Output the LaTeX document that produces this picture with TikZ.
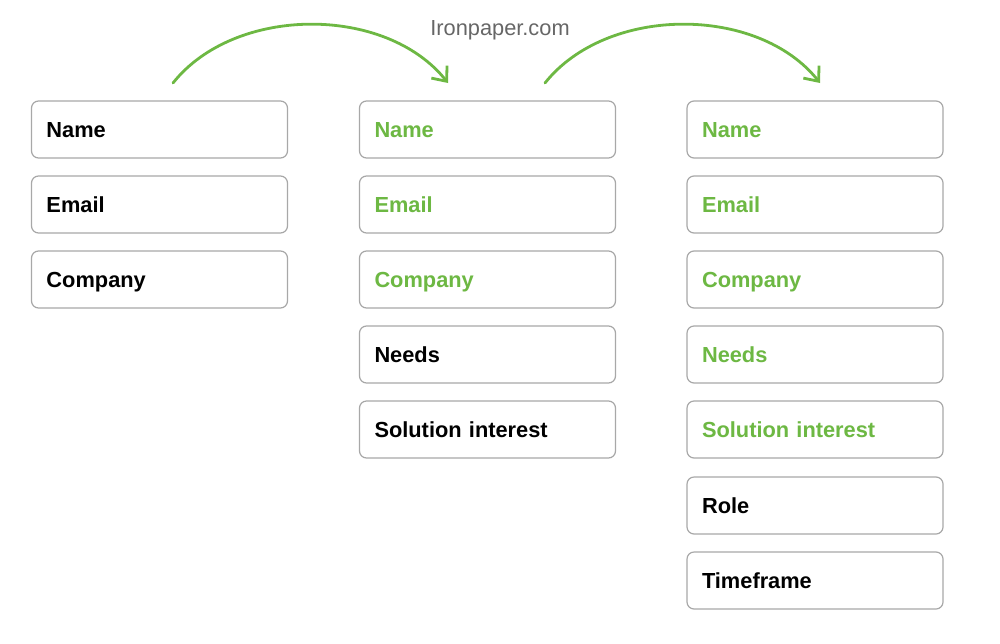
\documentclass[tikz,border=0pt]{standalone}
\usepackage{fontspec}
\setmainfont{Liberation Sans}
\usetikzlibrary{arrows.meta,positioning}
\definecolor{leafgreen}{HTML}{6DB843}
\definecolor{boxgray}{HTML}{A8A8A8}
\tikzset{font=\fontsize{10.9}{12}\selectfont\bfseries}
\tikzset{field/.style={draw=boxgray, line width=0.6pt, rounded corners=3.5pt,
    minimum width=127.5pt, minimum height=28.5pt, text width=113pt, align=left,
    text height=7.8pt, text depth=0pt, inner xsep=7.5pt, fill=white}}
\tikzset{done/.style={text=leafgreen}}
\tikzset{flow/.style={draw=leafgreen, line width=1.4pt, line cap=round,
    -{Straight Barb[length=6pt,width=10pt,line width=1.4pt]}}}

\begin{document}
\begin{tikzpicture}[x=0.5pt, y=-0.5pt]
  \useasboundingbox (0,0) rectangle (1000,643);

  \node[text=black!60, font=\fontsize{10.9}{13}\selectfont] (title) at (500,30) {Ironpaper.com};

  % first form
  \foreach \n/\t [count=\i from 0] in {a1/Name, a2/Email, a3/Company}{
    \node[field] (\n) at (159.5,{129.5+75*\i}) {\t};
  };

  % second form
  \foreach \n/\t [count=\i from 0] in {b1/Name, b2/Email, b3/Company}{
    \node[field, done] (\n) at (487.5,{129.5+75*\i}) {\t};
  };
  \node[field] (b4) at (487.5,354.5) {Needs};
  \node[field] (b5) at (487.5,429.5) {Solution interest};

  % third form
  \foreach \n/\t [count=\i from 0] in {c1/Name, c2/Email, c3/Company, c4/Needs, c5/Solution interest}{
    \node[field, done] (\n) at (815,{129.5+75*\i}) {\t};
  };
  \node[field] (c6) at (815,505.5) {Role};
  \node[field] (c7) at (815,580.5) {Timeframe};

  \coordinate (s1) at (173,83);
  \coordinate (e1) at (448,83);
  \coordinate (s2) at (545,83);
  \coordinate (e2) at (820,83);
  \draw[flow] (s1) .. controls (235,5) and (386,5) .. (e1);
  \draw[flow] (s2) .. controls (607,5) and (758,5) .. (e2);
\end{tikzpicture}
\end{document}
